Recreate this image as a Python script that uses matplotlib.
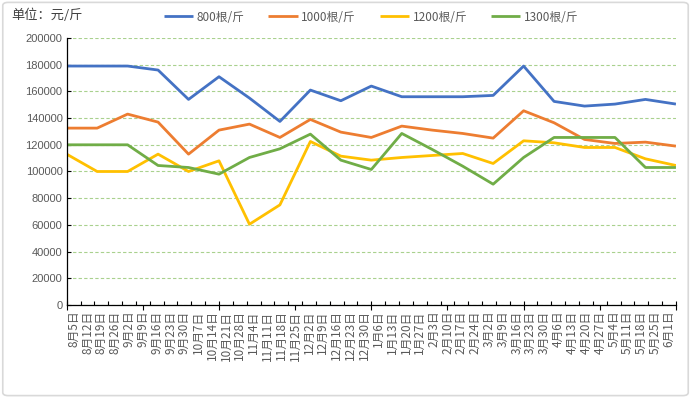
import matplotlib
matplotlib.use("Agg")
import matplotlib.pyplot as plt
from matplotlib.patches import FancyBboxPatch
import numpy as np

plt.rcParams["font.family"] = ["Noto Sans CJK SC", "DejaVu Sans"]

# category labels on the x axis (44 weekly dates)
dates = [
    "8月5日", "8月12日", "8月19日", "8月26日", "9月2日", "9月9日", "9月16日",
    "9月23日", "9月30日", "10月7日", "10月14日", "10月21日", "10月28日",
    "11月4日", "11月11日", "11月18日", "11月25日", "12月2日", "12月9日",
    "12月16日", "12月23日", "12月30日", "1月6日", "1月13日", "1月20日",
    "1月27日", "2月3日", "2月10日", "2月17日", "2月24日", "3月2日", "3月9日",
    "3月16日", "3月23日", "3月30日", "4月6日", "4月13日", "4月20日",
    "4月27日", "5月4日", "5月11日", "5月18日", "5月25日", "6月1日",
]

# price series (21 points each), 元/斤
series_names = ["800根/斤", "1000根/斤", "1200根/斤", "1300根/斤"]
p800 = [179000, 179000, 179000, 176000, 154000, 171000, 155000, 137500,
        161000, 153000, 164000, 156000, 156000, 156000, 157000, 179000,
        152500, 149000, 150500, 154000, 150500]
p1000 = [132500, 132500, 143000, 137000, 113000, 131000, 135500, 125500,
         139000, 129500, 125500, 134000, 131000, 128500, 125000, 145500,
         136500, 124000, 121000, 122000, 119000]
p1200 = [113000, 100000, 100000, 113000, 100000, 108000, 60500, 75000,
         122500, 111500, 108500, 110500, 112000, 113500, 106000, 123000,
         121500, 118000, 118000, 109500, 104500]
p1300 = [120000, 120000, 120000, 104500, 103000, 98000, 110500, 117000,
         128000, 108500, 101500, 128500, 116500, 104000, 90500, 110500,
         125500, 125500, 125500, 103000, 103000]
colors = ["#4472C4", "#ED7D31", "#FFC000", "#70AD47"]

fig = plt.figure(figsize=(6.91, 3.98), dpi=100)
fig.patches.append(FancyBboxPatch((0.004, 0.006), 0.992, 0.988,
                                  boxstyle="round,pad=0,rounding_size=0.008",
                                  transform=fig.transFigure, fill=False,
                                  edgecolor="#d9d9d9", lw=1.2))
ax = fig.add_axes([0.0965, 0.2337, 0.8817, 0.6708])

x = np.arange(len(p800))
for vals, name, c in zip([p800, p1000, p1200, p1300], series_names, colors):
    ax.plot(x, vals, color=c, lw=2.0, label=name, solid_capstyle="butt")

ax.set_xlim(0, len(p800) - 1)
ax.set_ylim(0, 200000)
ax.set_yticks(np.arange(0, 200001, 20000))
ax.grid(axis="y", color="#a9d18e", ls=(0, (3, 2)), lw=0.8)
ax.set_axisbelow(True)
ax.tick_params(axis="y", direction="in", length=3, width=0.8,
               labelsize=8, labelcolor="#595959", pad=3)
for lab in ax.get_yticklabels():
    lab.set_family(["Liberation Sans", "DejaVu Sans"])
ax.tick_params(axis="x", bottom=False, labelbottom=False)
for s in ["top", "right"]:
    ax.spines[s].set_visible(False)
ax.spines["left"].set_linewidth(0.9)
ax.spines["bottom"].set_linewidth(0.9)

# category axis with the date labels
ax2 = ax.twiny()
ax2.set_xlim(0, len(dates))
ax2.xaxis.set_ticks_position("bottom")
ax2.xaxis.set_label_position("bottom")
ax2.set_xticks(np.arange(len(dates)) + 0.5)
ax2.set_xticklabels(dates, rotation=90, fontsize=8.5, color="#595959")
ax2.tick_params(axis="x", which="major", length=0, pad=4)
ax2.set_xticks(np.arange(len(dates) + 1), minor=True)
ax2.tick_params(axis="x", which="minor", direction="in", length=3, width=0.8)
for s in ax2.spines.values():
    s.set_visible(False)

fig.text(0.016, 0.962, "单位：元/斤", fontsize=9.5, color="#404040", va="center")

fig.legend(loc="center", bbox_to_anchor=(0.537, 0.957), ncol=4, frameon=False,
           fontsize=8.5, handlelength=2.5, handletextpad=0.3, columnspacing=2.0,
           labelcolor="#595959")

fig.savefig("out.png", dpi=100)
